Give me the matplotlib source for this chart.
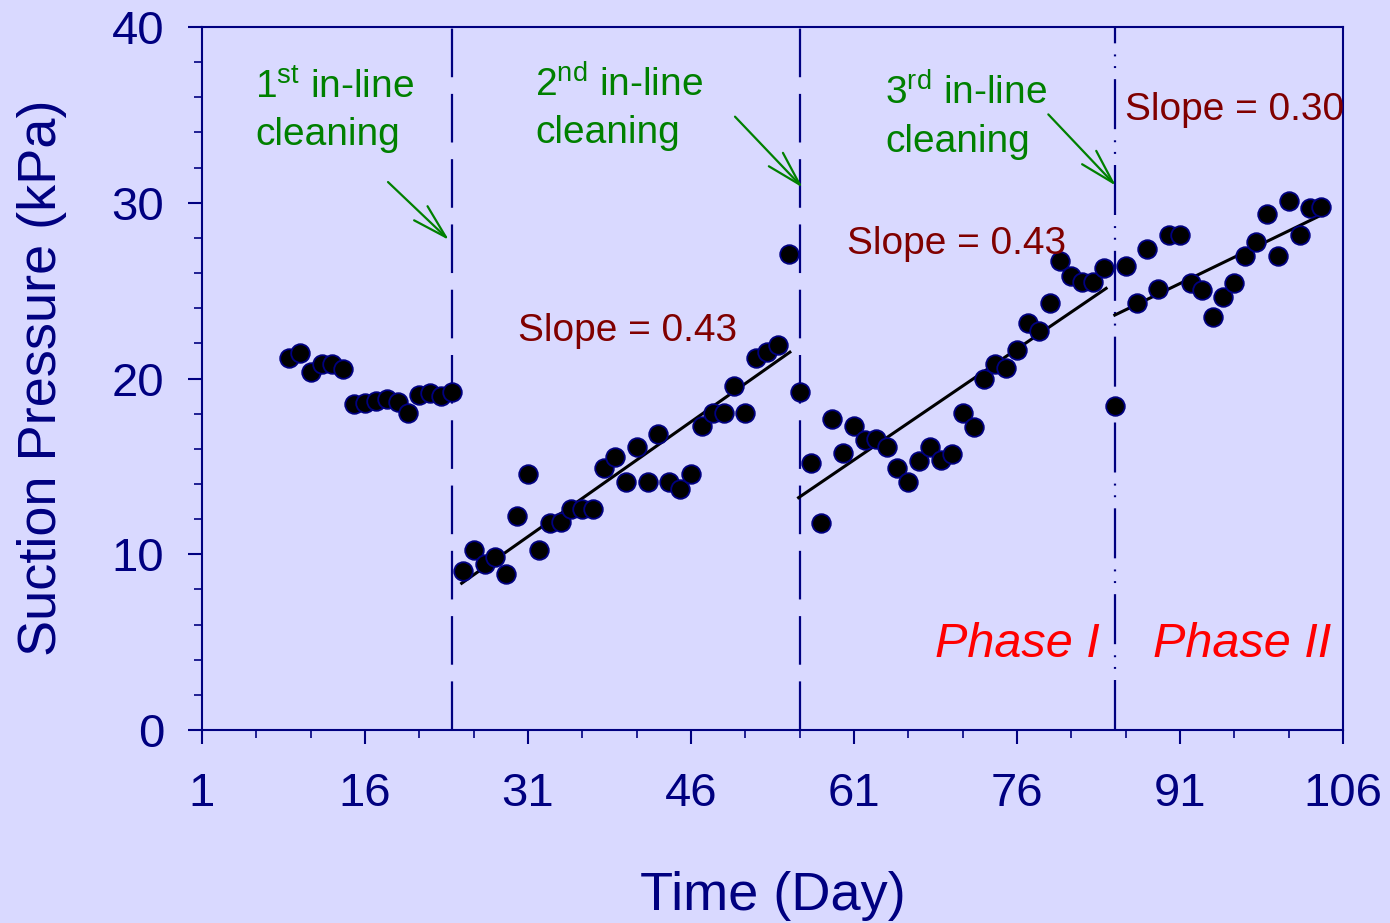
import numpy as np
import matplotlib
matplotlib.use("Agg")
import matplotlib.pyplot as plt

plt.rcParams['font.family'] = ['Liberation Sans', 'DejaVu Sans']
plt.rcParams['mathtext.fontset'] = 'custom'
plt.rcParams['mathtext.rm'] = 'Liberation Sans'
plt.rcParams['mathtext.it'] = 'Liberation Sans:italic'
plt.rcParams['lines.scale_dashes'] = False

# data
days = np.arange(9, 105)
pressure = [21.15, 21.47, 20.35, 20.81, 20.81, 20.54, 18.53, 18.62, 18.74, 18.83,
            18.68, 18.02, 19.06, 19.16, 19.00, 19.25,
            9.06, 10.24, 9.45, 9.86, 8.88, 12.19, 14.55, 10.24, 11.80, 11.85,
            12.56, 12.56, 12.56, 14.89, 15.52, 14.13, 16.12, 14.13, 16.84, 14.13,
            13.71, 14.55, 17.30, 18.04, 18.04, 19.57, 18.04, 21.17, 21.50, 21.90,
            27.07, 19.21, 15.17, 11.80, 17.68, 15.74, 17.30, 16.50, 16.54, 16.12,
            14.93, 14.13, 15.32, 16.12, 15.36, 15.70, 18.06, 17.26, 19.97, 20.81,
            20.62, 21.62, 23.18, 22.70, 24.31, 26.69, 25.85, 25.47, 25.47, 26.27,
            18.45, 26.38, 24.28, 27.37, 25.09, 28.16, 28.16, 25.45, 25.04, 23.48,
            24.66, 25.45, 26.99, 27.78, 29.36, 26.99, 30.12, 28.16, 29.72, 29.74]

# trend line end points
trend_x = [(24.9, 55.1), (55.9, 84.2), (85.0, 103.7)]
trend_y = [(8.35, 21.5), (13.22, 25.13), (23.61, 29.21)]

# cleaning days
clean_days = [24, 56, 85]
clean_labels = [('1', 'st'), ('2', 'nd'), ('3', 'rd')]
label_pos = [(5.88, 35.96), (31.64, 36.04), (63.85, 35.56)]
arrow_from = [(18.12, 31.18), (50.05, 34.9), (78.88, 35.03)]
arrow_to = [(23.73, 27.88), (56.28, 30.86), (85.1, 30.97)]

slope_text = ['Slope = 0.43', 'Slope = 0.43', 'Slope = 0.30']
slope_pos = [(30.08, 22.13), (60.35, 27.08), (85.94, 34.71)]

bg = '#D9D9FF'
navy = '#000080'
green = '#008000'
darkred = '#800000'

fig = plt.figure(figsize=(13.9, 9.23), dpi=100, facecolor=bg)
ax = fig.add_axes([0.1453, 0.2091, 0.8209, 0.7616], facecolor=bg)

# cleaning lines
ax.axvline(clean_days[0], color=navy, lw=1.6, dashes=(35, 12), zorder=1)
ax.axvline(clean_days[1], color=navy, lw=1.6, dashes=(35, 12), zorder=1)
ax.axvline(clean_days[2], color=navy, lw=1.6,
           dashes=(36, 8, 1.4, 7, 1.4, 8), zorder=1)

for tx, ty in zip(trend_x, trend_y):
    ax.plot(tx, ty, color='black', lw=2.2, zorder=2)

ax.plot(days, pressure, 'o', ms=13.4, mfc='black', mec=navy, mew=1.3, zorder=3)

for (num, sup), (lx, ly), a0, a1 in zip(clean_labels, label_pos, arrow_from, arrow_to):
    ax.text(lx, ly, num + r'$^{\mathrm{' + sup + '}}$ in-line', color=green,
            fontsize=28, ha='left', va='baseline')
    ax.text(lx, ly - 2.65, 'cleaning', color=green, fontsize=28,
            ha='left', va='baseline')
    ax.annotate('', xy=a1, xytext=a0,
                arrowprops=dict(arrowstyle='->,head_length=2.5,head_width=0.7',
                                color=green, lw=1.6, mutation_scale=10,
                                shrinkA=0, shrinkB=0))

for s, (sx, sy) in zip(slope_text, slope_pos):
    ax.text(sx, sy, s, color=darkred, fontsize=28, ha='left', va='baseline')

ax.text(68.45, 4.17, 'Phase I', color='red', fontsize=35, style='italic',
        ha='left', va='baseline')
ax.text(88.5, 4.17, 'Phase II', color='red', fontsize=35, style='italic',
        ha='left', va='baseline')

ax.set_xlim(1, 106)
ax.set_ylim(0, 40)
ax.set_xticks(np.arange(1, 107, 15))
ax.set_xticks(np.arange(1, 107, 5), minor=True)
ax.set_yticks(np.arange(0, 41, 10))
ax.set_yticks(np.arange(0, 41, 2), minor=True)

for sp in ax.spines.values():
    sp.set_color(navy)
    sp.set_linewidth(1.5)

ax.tick_params(which='major', length=10, width=1.5, color=navy,
               labelcolor=navy, labelsize=34)
ax.tick_params(which='minor', length=6, width=1.2, color=navy)
ax.tick_params(axis='x', which='major', pad=20)
ax.tick_params(axis='y', which='major', pad=17)

fig.text(42 / 1390, 0.591, 'Suction Pressure (kPa)', rotation=90,
         color=navy, fontsize=39, ha='center', va='center')
fig.text(772.5 / 1390, 0.0293, 'Time (Day)', color=navy, fontsize=39,
         ha='center', va='center')

fig.savefig('out.png', dpi=100, facecolor=bg)
